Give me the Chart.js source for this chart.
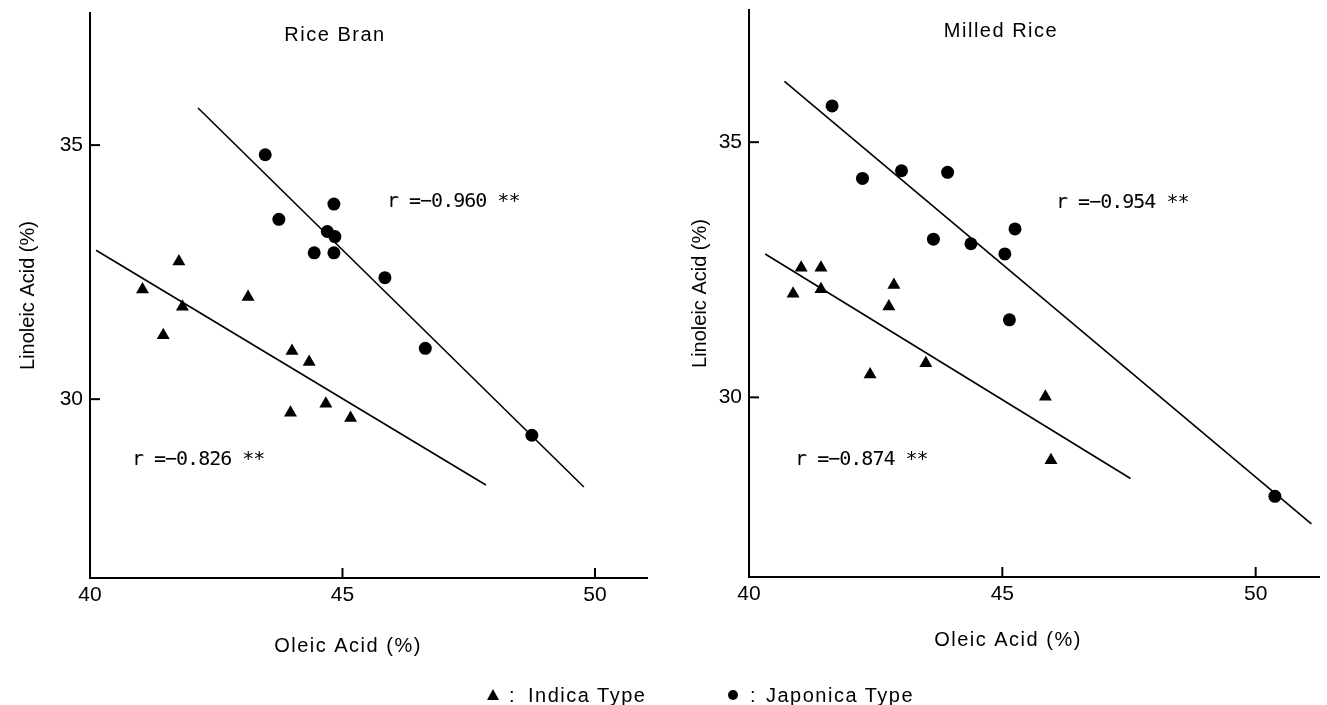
<!DOCTYPE html>
<html><head><meta charset="utf-8">
<script src="https://cdn.jsdelivr.net/npm/chart.js@4.4.1/dist/chart.umd.min.js"></script>
<style>
html,body{margin:0;padding:0;background:#fff;width:1327px;height:705px;overflow:hidden;}
#wrap{position:relative;width:1327px;height:705px;}
canvas{position:absolute;top:0;}
#c1{left:0;} #c2{left:663px;}
.lt{position:absolute;font-family:'Liberation Sans',Arial,sans-serif;font-size:20px;letter-spacing:1.5px;color:#000;white-space:nowrap;line-height:20px;}
.tri{position:absolute;width:0;height:0;border-left:6px solid transparent;border-right:6px solid transparent;border-bottom:11px solid #000;}
.dot{position:absolute;width:10px;height:10px;border-radius:50%;background:#000;}
</style></head><body>
<div id="wrap">
<canvas id="c1" width="663" height="705"></canvas>
<canvas id="c2" width="664" height="705"></canvas>
<div class="tri" style="left:487px;top:689px;"></div>
<div class="lt" style="left:509px;top:685px;">:</div>
<div class="lt" style="left:528px;top:685px;">Indica Type</div>
<div class="dot" style="left:728px;top:690px;"></div>
<div class="lt" style="left:750px;top:685px;">:</div>
<div class="lt" style="left:766px;top:685px;">Japonica Type</div>
</div>
<script>
// ---- data ----
const xTickValues = [40, 45, 50];
const yTickValues = [30, 35];

// Rice Bran
const branJaponicaX = [43.47, 43.74, 44.83, 44.70, 44.85, 44.44, 44.83, 45.84, 46.64, 48.75];
const branJaponicaY = [34.81, 33.54, 33.84, 33.30, 33.20, 32.88, 32.88, 32.39, 31.00, 29.29];
const branIndicaX = [41.76, 41.04, 41.83, 41.45, 43.13, 44.00, 44.34, 43.97, 44.67, 45.16];
const branIndicaY = [32.71, 32.16, 31.82, 31.26, 32.01, 30.95, 30.73, 29.73, 29.91, 29.63];
const branJaponicaFitX = [42.14, 49.78];
const branJaponicaFitY = [35.73, 28.27];
const branIndicaFitX = [40.12, 47.84];
const branIndicaFitY = [32.93, 28.31];

// Milled Rice
const milledJaponicaX = [41.64, 42.24, 43.01, 43.92, 43.64, 44.38, 45.05, 45.25, 45.14, 50.38];
const milledJaponicaY = [35.71, 34.29, 34.44, 34.41, 33.10, 33.01, 32.81, 33.30, 31.52, 28.06];
const milledIndicaX = [41.03, 41.42, 40.87, 41.42, 42.86, 42.76, 42.39, 43.49, 45.85, 45.96];
const milledIndicaY = [32.54, 32.54, 32.03, 32.12, 32.20, 31.78, 30.45, 30.67, 30.01, 28.77];
const milledJaponicaFitX = [40.70, 51.10];
const milledJaponicaFitY = [36.19, 27.52];
const milledIndicaFitX = [40.32, 47.53];
const milledIndicaFitY = [32.81, 28.41];

const panelTitles = ['Rice Bran', 'Milled Rice'];
const xTitle = 'Oleic Acid (%)';
const yTitle = 'Linoleic Acid (%)';
const corrLabels = [['r =\u22120.960 **', 'r =\u22120.826 **'], ['r =\u22120.954 **', 'r =\u22120.874 **']];

// ---- helpers ----
const pts = (xs, ys) => xs.map((x, i) => ({x: x, y: ys[i]}));
const tickFont = {family: "'Liberation Sans Narrow','Liberation Sans',Arial,sans-serif", size: 21};
const sansFam = "'Liberation Sans',Arial,sans-serif";

const decor = {
  id: 'decor',
  afterDraw(chart, args, o) {
    const ctx = chart.ctx;
    const ca = chart.chartArea;
    const xs = chart.scales.x, ys = chart.scales.y;
    ctx.save();
    ctx.strokeStyle = '#000';
    ctx.lineWidth = 2;
    yTickValues.forEach(v => {
      const p = ys.getPixelForValue(v);
      ctx.beginPath(); ctx.moveTo(ca.left, p); ctx.lineTo(ca.left + 10, p); ctx.stroke();
    });
    xTickValues.forEach(v => {
      const p = xs.getPixelForValue(v);
      ctx.beginPath(); ctx.moveTo(p, ca.bottom); ctx.lineTo(p, ca.bottom - 10); ctx.stroke();
    });
    ctx.fillStyle = '#000';
    ctx.textBaseline = 'middle';
    ctx.textAlign = 'center';
    ctx.font = '20px ' + sansFam;
    ctx.letterSpacing = '1.5px';
    ctx.fillText(o.title, ca.left + o.titleDx, o.titleY);
    ctx.fillText(o.xTitle, ca.left + o.xTitleDx, o.xTitleY);
    ctx.letterSpacing = '-1px';
    ctx.textAlign = 'left';
    ctx.font = "20px 'DejaVu Sans Mono',monospace";
    o.notes.forEach(n => ctx.fillText(n.text, xs.getPixelForValue(n.x), ys.getPixelForValue(n.y)));
    ctx.restore();
  }
};

function makeChart(id, cfg) {
  return new Chart(document.getElementById(id), {
    type: 'scatter',
    data: {
      datasets: [
        {label: 'Japonica Type', data: pts(cfg.jx, cfg.jy), pointStyle: 'circle', pointRadius: 6.5,
         backgroundColor: '#000', borderColor: '#000', borderWidth: 0},
        {label: 'Indica Type', data: pts(cfg.ix, cfg.iy), pointStyle: 'triangle', pointRadius: 7.5,
         backgroundColor: '#000', borderColor: '#000', borderWidth: 0},
        {label: 'Japonica fit', data: pts(cfg.jfx, cfg.jfy), showLine: true, pointRadius: 0,
         borderColor: '#000', borderWidth: 1.6, fill: false},
        {label: 'Indica fit', data: pts(cfg.ifx, cfg.ify), showLine: true, pointRadius: 0,
         borderColor: '#000', borderWidth: 1.6, fill: false}
      ]
    },
    options: {
      responsive: false, animation: false, devicePixelRatio: 1,
      layout: {padding: {left: 0, right: cfg.padRight, top: cfg.padTop, bottom: 0}},
      plugins: {
        legend: {display: false}, tooltip: {enabled: false},
        decor: cfg.decor
      },
      scales: {
        x: {
          type: 'linear', min: 40, max: cfg.xMax,
          afterBuildTicks: s => { s.ticks = xTickValues.map(v => ({value: v})); },
          afterFit: s => { s.height = cfg.xHeight; s.paddingLeft = 0; s.paddingRight = 0; },
          grid: {display: false, drawTicks: false},
          border: {display: true, color: '#000', width: 2},
          ticks: {color: '#000', font: tickFont, padding: 5, maxRotation: 0, callback: v => String(v)}
        },
        y: {
          type: 'linear', min: cfg.yMin, max: cfg.yMax,
          afterBuildTicks: s => { s.ticks = yTickValues.map(v => ({value: v})); },
          afterFit: s => { s.width = cfg.yWidth; s.paddingTop = 0; s.paddingBottom = 0; },
          grid: {display: false, drawTicks: false},
          border: {display: true, color: '#000', width: 2},
          ticks: {color: '#000', font: tickFont, padding: 7, callback: v => String(v)},
          title: {display: true, text: yTitle, color: '#000', font: {family: sansFam, size: 20},
                  padding: {top: cfg.yTitlePad, bottom: 0}}
        }
      }
    },
    plugins: [decor]
  });
}

makeChart('c1', {
  jx: branJaponicaX, jy: branJaponicaY, ix: branIndicaX, iy: branIndicaY,
  jfx: branJaponicaFitX, jfy: branJaponicaFitY, ifx: branIndicaFitX, ify: branIndicaFitY,
  xMax: 51.03, yMin: 26.48, yMax: 37.6,
  padRight: 16, padTop: 13, xHeight: 127, yWidth: 90, yTitlePad: 16,
  decor: {title: panelTitles[0], titleDx: 245, titleY: 35,
          xTitle: xTitle, xTitleDx: 258, xTitleY: 646,
          notes: [{text: corrLabels[0][0], x: 45.88, y: 33.88}, {text: corrLabels[0][1], x: 40.83, y: 28.8}]}
});

makeChart('c2', {
  jx: milledJaponicaX, jy: milledJaponicaY, ix: milledIndicaX, iy: milledIndicaY,
  jfx: milledJaponicaFitX, jfy: milledJaponicaFitY, ifx: milledIndicaFitX, ify: milledIndicaFitY,
  xMax: 51.26, yMin: 26.48, yMax: 37.59,
  padRight: 7, padTop: 10, xHeight: 128, yWidth: 86, yTitlePad: 25,
  decor: {title: panelTitles[1], titleDx: 252, titleY: 31,
          xTitle: xTitle, xTitleDx: 259, xTitleY: 640,
          notes: [{text: corrLabels[1][0], x: 46.06, y: 33.81}, {text: corrLabels[1][1], x: 40.91, y: 28.77}]}
});
</script>
</body></html>
